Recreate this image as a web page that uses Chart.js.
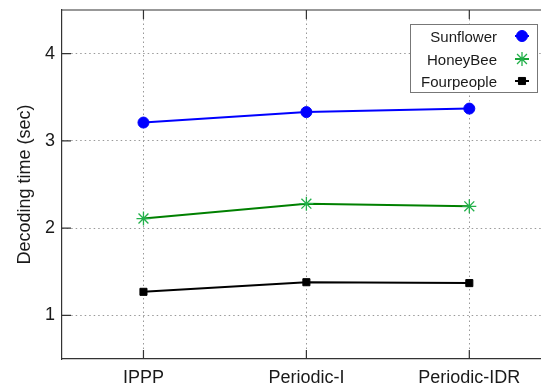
<!DOCTYPE html>
<html>
<head>
<meta charset="utf-8">
<script src="https://cdn.jsdelivr.net/npm/chart.js@4/dist/chart.umd.min.js"></script>
<style>
  html, body { margin: 0; padding: 0; background: #ffffff; }
  #wrap { width: 541px; height: 390px; }
</style>
</head>
<body>
<div id="wrap"><canvas id="chart" width="541" height="390"></canvas></div>
<script>
// ---- data ----
const categories = ['IPPP', 'Periodic-I', 'Periodic-IDR'];
const sunflower = [3.21, 3.33, 3.37];
const honeyBee = [2.11, 2.28, 2.25];
const fourpeople = [1.27, 1.38, 1.37];
const yTicks = [1, 2, 3, 4];

const FONT = "'Liberation Sans', Arial, sans-serif";

function toPoints(values) {
  return values.map((v, i) => ({ x: i, y: v }));
}

// Inner tick marks, top frame line and the boxed legend
const framePlugin = {
  id: 'frame',
  afterDraw(chart) {
    const ctx = chart.ctx;
    const area = chart.chartArea;
    const xs = chart.scales.x;
    const ys = chart.scales.y;

    ctx.save();
    ctx.strokeStyle = '#333333';
    ctx.lineWidth = 1.2;
    ctx.beginPath();
    ctx.moveTo(area.left, area.top);
    ctx.lineTo(area.right, area.top);
    yTicks.forEach(t => {
      const py = ys.getPixelForValue(t);
      ctx.moveTo(area.left, py);
      ctx.lineTo(area.left + 9, py);
    });
    categories.forEach((c, i) => {
      const px = xs.getPixelForValue(i);
      ctx.moveTo(px, area.bottom);
      ctx.lineTo(px, area.bottom - 9);
      ctx.moveTo(px, area.top);
      ctx.lineTo(px, area.top + 9);
    });
    ctx.stroke();

    // legend box
    const bx = 410, by = 24, bw = 127, bh = 68;
    ctx.fillStyle = '#ffffff';
    ctx.fillRect(bx, by, bw, bh);
    ctx.strokeStyle = '#777777';
    ctx.lineWidth = 1;
    ctx.strokeRect(bx + 0.5, by + 0.5, bw, bh);

    ctx.font = '15px ' + FONT;
    ctx.textAlign = 'right';
    ctx.textBaseline = 'middle';
    const rows = [36, 59, 81];
    chart.data.datasets.forEach((ds, i) => {
      const y = rows[i];
      ctx.fillStyle = '#1a1a1a';
      ctx.fillText(ds.label, 497, y + 1.5);
      ctx.strokeStyle = ds.borderColor;
      ctx.lineWidth = ds.borderWidth;
      ctx.beginPath();
      ctx.moveTo(515, y);
      ctx.lineTo(529, y);
      ctx.stroke();
      ctx.fillStyle = ds.pointBackgroundColor;
      ctx.strokeStyle = ds.pointBorderColor;
      ctx.lineWidth = ds.pointBorderWidth;
      Chart.helpers.drawPoint(ctx, {
        pointStyle: ds.pointStyle,
        radius: ds.pointRadius,
        borderWidth: ds.pointBorderWidth,
        rotation: 0
      }, 522, y);
    });
    ctx.restore();
  }
};

new Chart(document.getElementById('chart').getContext('2d'), {
  type: 'line',
  data: {
    datasets: [
      {
        label: 'Sunflower',
        data: toPoints(sunflower),
        borderColor: '#0000ff',
        backgroundColor: '#0000ff',
        borderWidth: 2,
        pointStyle: 'circle',
        pointRadius: 5.5,
        pointBackgroundColor: '#0000ff',
        pointBorderColor: '#0000ff',
        pointBorderWidth: 1,
      },
      {
        label: 'HoneyBee',
        data: toPoints(honeyBee),
        borderColor: '#008000',
        backgroundColor: '#22b04a',
        borderWidth: 2,
        pointStyle: 'star',
        pointRadius: 7,
        pointBackgroundColor: '#22b04a',
        pointBorderColor: '#22b04a',
        pointBorderWidth: 1.3,
      },
      {
        label: 'Fourpeople',
        data: toPoints(fourpeople),
        borderColor: '#000000',
        backgroundColor: '#000000',
        borderWidth: 2,
        pointStyle: 'rect',
        pointRadius: 5,
        pointBackgroundColor: '#000000',
        pointBorderColor: '#000000',
        pointBorderWidth: 1,
      },
    ],
  },
  options: {
    responsive: false,
    animation: false,
    events: [],
    layout: { padding: { top: 10, left: 0, right: 0, bottom: 0 }, autoPadding: false },
    plugins: {
      legend: { display: false },
      tooltip: { enabled: false },
    },
    scales: {
      x: {
        type: 'linear',
        min: -0.5,
        max: 2.44,
        afterBuildTicks: s => { s.ticks = categories.map((c, i) => ({ value: i })); },
        afterFit: s => { s.height = 31; s.paddingLeft = 0; s.paddingRight = 0; },
        grid: { color: '#999999', lineWidth: 1, drawTicks: false },
        border: { color: '#333333', width: 1.2, dash: [1.5, 3] },
        ticks: {
          padding: 8,
          color: '#1a1a1a',
          font: { family: FONT, size: 18 },
          maxRotation: 0,
          callback: v => categories[v] || '',
        },
      },
      y: {
        min: 0.5,
        max: 4.5,
        afterBuildTicks: s => { s.ticks = yTicks.map(v => ({ value: v })); },
        afterFit: s => { s.width = 62; s.paddingTop = 0; s.paddingBottom = 0; },
        grid: { color: '#999999', lineWidth: 1, drawTicks: false },
        border: { color: '#333333', width: 1.2, dash: [1.5, 3] },
        ticks: {
          padding: 7,
          color: '#1a1a1a',
          font: { family: FONT, size: 18 },
          callback: v => String(v),
        },
        title: {
          display: true,
          text: 'Decoding time (sec)',
          color: '#1a1a1a',
          font: { family: FONT, size: 18 },
          padding: { top: 14, bottom: 0 },
        },
      },
    },
  },
  plugins: [framePlugin],
});
</script>
</body>
</html>
